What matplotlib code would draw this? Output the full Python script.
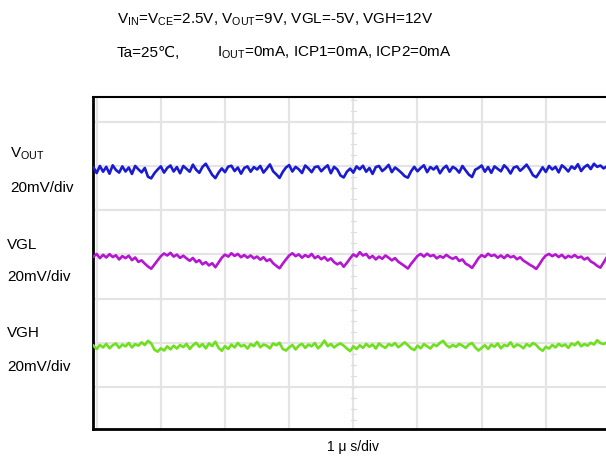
#!/usr/bin/env python
import numpy as np
from matplotlib import pyplot as plt

plt.rcParams['font.family'] = ['Liberation Sans', 'DejaVu Sans']
plt.rcParams['mathtext.fontset'] = 'custom'
plt.rcParams['mathtext.rm'] = 'Liberation Sans'
plt.rcParams['mathtext.it'] = 'Liberation Sans:italic'

# scope settings
mv_per_div = 20.0
n_div_x = 8

# trace baselines on screen (div above the lowest grid line)
vout_pos = 4.90
vgl_pos = 2.90
vgh_pos = 0.91

# sampled ripple, mV (one sample every 0.05 div)
vout_mv = [1.4, -1.2, 2.0, -0.6, 1.6, -1.5, 2.3, 0.2, -1.0, 1.8, -0.5, 1.3, -1.6, 2.0, 0.5, -0.9, 1.1, -2.9, -3.6, -1.3,
           0.4, 1.8, -1.0, 1.1, 2.2, -0.5, 1.5, -1.3, 2.0, 0.7, -0.6, 2.6, 0.3, -1.1, 1.6, 3.0, 0.5, -2.0, -3.5, -1.0,
           0.9, -0.8, 1.7, 2.1, -0.3, 1.3, -1.5, 1.1, 1.8, -0.6, 1.5, 0.4, 2.0, -1.0, 0.8, 2.7, -0.4, -1.8, -3.4, -0.7,
           1.3, 2.4, -0.5, 1.6, 0.5, -1.2, 2.2, 0.9, -0.8, 1.5, 1.8, -0.4, 1.1, 2.3, -1.3, 1.6, 0.4, -2.3, -3.2, -0.6,
           0.8, -1.0, 1.8, 0.5, 2.1, -0.6, 1.1, -1.6, 1.5, 2.0, -0.3, 0.9, 2.5, -0.8, 1.3, 0.2, -1.1, -2.6, -3.3, -0.4,
           1.6, -0.4, 1.1, 2.3, -0.8, 1.5, 0.4, 1.8, -1.3, 0.9, 2.1, -0.6, 1.6, 0.7, -1.0, 2.0, 0.0, -1.9, -3.0, 0.3,
           1.1, 2.2, -0.6, 1.5, -1.1, 1.8, 0.7, -0.4, 2.3, 0.9, -1.4, 1.3, 1.8, -0.2, 1.1, 2.6, 0.4, -2.2, -3.1, -0.9,
           1.4, -0.7, 2.0, 0.4, 1.6, -0.9, 2.3, 1.1, -0.5, 1.8, 0.7, 2.8, -0.3, 1.5, 2.5, 0.6, 3.0, 1.6, 2.2, 0.9,
           1.8]

vgl_mv = [1.0, 2.2, 0.3, 1.8, 0.6, 2.1, 0.8, 1.6, -0.3, 1.2, 0.3, 1.4, -0.6, 0.6, -1.4, -0.7, -2.2, -3.5, -4.5, -2.6,
          -0.7, 1.2, 2.4, 1.5, 2.7, 1.0, 1.9, 0.4, 1.4, 0.2, -0.9, 0.4, -1.5, -0.6, -2.5, -1.5, -3.0, -2.0, -3.8, -1.7,
          0.5, 1.9, 1.0, 2.5, 1.3, 2.2, 0.7, 1.7, 0.5, 1.5, 0.2, 1.0, -0.4, 0.7, -1.0, -0.2, -2.0, -3.2, -4.3, -2.2,
          -0.3, 1.5, 2.5, 1.2, 2.0, 0.5, 1.7, 0.8, 2.2, 0.3, 1.2, -0.2, 0.8, -0.8, 0.2, -1.5, -2.5, -1.7, -3.6, -1.8,
          0.2, 2.0, 1.0, 3.0, 1.5, 2.2, 0.3, 1.3, -0.3, 1.0, 0.0, 1.5, 0.5, -0.7, 0.3, -1.3, -2.3, -3.3, -4.4, -2.3,
          -0.5, 1.3, 2.2, 1.0, 2.3, 1.2, 1.7, 0.2, 1.2, 0.5, 1.8, 0.7, 0.0, 0.8, -1.0, -0.3, -2.2, -3.0, -4.1, -2.0,
          0.3, 1.7, 0.8, 2.3, 1.3, 1.8, 0.5, 1.5, 0.3, 1.7, 0.7, 1.2, -0.2, 0.7, -0.8, -1.7, -2.7, -3.5, -4.6, -2.5,
          -0.2, 1.5, 2.2, 1.2, 2.0, 0.8, 1.8, 0.3, 1.3, 0.7, 1.7, 0.5, 1.0, -0.3, 0.5, -1.2, -2.0, -3.2, -4.0, -1.7,
          0.7]

vgh_mv = [0.5, -1.0, 0.8, -0.3, 1.3, -0.7, 0.7, 1.5, -0.5, 1.0, 0.2, 1.7, -0.3, 1.2, 0.5, 2.0, 0.8, 2.7, 1.5, -1.3,
          -2.2, -0.7, -1.7, 0.2, -1.2, 0.5, -0.8, 0.8, -0.2, 1.3, -1.0, 0.7, 1.8, 0.0, 1.2, -0.7, 1.5, 0.3, 2.3, -0.5,
          -1.8, 0.3, -1.0, 1.0, -0.3, 1.7, 0.2, 0.8, -0.8, 1.2, 0.3, 2.2, -0.2, 1.0, 0.5, -0.7, 1.5, 0.7, 1.8, -1.0,
          -1.7, -0.3, 0.8, -1.2, 0.5, 1.3, -0.5, 1.0, 0.2, 1.7, -0.7, 0.7, 2.8, 0.3, 1.2, -0.3, 0.8, 1.5, 0.5, -0.8,
          -2.0, 0.2, -1.0, 0.7, -0.5, 1.3, 0.0, 1.0, -0.8, 1.5, 0.3, -0.5, 1.2, 0.5, 1.7, -0.2, 0.8, 2.0, 0.7, -0.7,
          -1.5, 0.5, -0.7, 1.2, 0.2, -0.8, 1.0, 0.3, 1.8, 2.7, 0.7, -0.3, 0.8, 0.0, 1.3, 0.5, -0.5, 1.0, 1.7, -0.3,
          -1.7, -0.5, 0.7, -1.0, 1.0, 0.0, 1.5, -0.7, 0.8, 0.3, 2.0, -0.2, 1.0, 0.5, -0.7, 1.2, 0.2, 1.7, 0.8, -0.8,
          -1.8, 0.0, -0.8, 0.8, -0.3, 1.3, 0.3, 1.0, -0.5, 1.5, 0.7, 2.2, 0.2, 1.2, 0.5, 1.8, 1.0, 3.0, 1.7, 1.2,
          2.0]

t_div = np.linspace(-0.05, 7.95, len(vout_mv))

fig = plt.figure(figsize=(6.06, 4.61), dpi=100)
ax = fig.add_axes([93 / 606, 32 / 461, 517 / 606, 332 / 461])

# graticule
for k in range(0, n_div_x + 1):
    ax.axvline(k, color='#e4e4e4', lw=1.6, zorder=1)
for k in range(0, 7):
    ax.axhline(k, color='#e4e4e4', lw=1.6, zorder=1)
# small marks on centre line
for yy in np.arange(-0.75, 6.6, 0.25):
    ax.plot([3.96, 4.04], [yy, yy], color='#dddddd', lw=0.8, zorder=1)

ax.plot(t_div, vout_pos + np.array(vout_mv) / mv_per_div, color='#1a1ad2', lw=1.9, zorder=3)
ax.plot(t_div, vgl_pos + np.array(vgl_mv) / mv_per_div, color='#b416d2', lw=1.9, zorder=3)
ax.plot(t_div, vgh_pos + np.array(vgh_mv) / mv_per_div, color='#6ee01e', lw=1.9, zorder=3)

ax.set_xlim(-0.057, 8.0)
ax.set_ylim(-0.95, 6.56)
ax.set_xticks([])
ax.set_yticks([])
ax.spines['left'].set_linewidth(2)
ax.spines['bottom'].set_linewidth(2)
ax.spines['top'].set_linewidth(1.5)
ax.spines['right'].set_visible(False)

fs = 11
fig.text(117 / 606, 1 - 20 / 461, r'V$_{\mathrm{IN}}$=V$_{\mathrm{CE}}$=2.5V, V$_{\mathrm{OUT}}$=9V, VGL=-5V, VGH=12V',
         fontsize=fs, va='center', ha='left')
fig.text(117 / 606, 1 - 53 / 461, 'Ta=25\u2103,', fontsize=fs, va='center', ha='left')
fig.text(217 / 606, 1 - 53 / 461, r'I$_{\mathrm{OUT}}$=0mA, ICP1=0mA, ICP2=0mA', fontsize=fs, va='center', ha='left')

fig.text(10 / 606, 1 - 154 / 461, r'V$_{\mathrm{OUT}}$', fontsize=fs, va='center', ha='left')
fig.text(10 / 606, 1 - 188 / 461, '20mV/div', fontsize=fs, va='center', ha='left')
fig.text(7 / 606, 1 - 245 / 461, 'VGL', fontsize=fs, va='center', ha='left')
fig.text(7 / 606, 1 - 277 / 461, '20mV/div', fontsize=fs, va='center', ha='left')
fig.text(7 / 606, 1 - 333 / 461, 'VGH', fontsize=fs, va='center', ha='left')
fig.text(7 / 606, 1 - 367 / 461, '20mV/div', fontsize=fs, va='center', ha='left')

fig.text(353 / 606, 1 - 447 / 461, '1 \u03bc s/div', fontsize=10, va='center', ha='center')

plt.savefig('out.png', dpi=100)
